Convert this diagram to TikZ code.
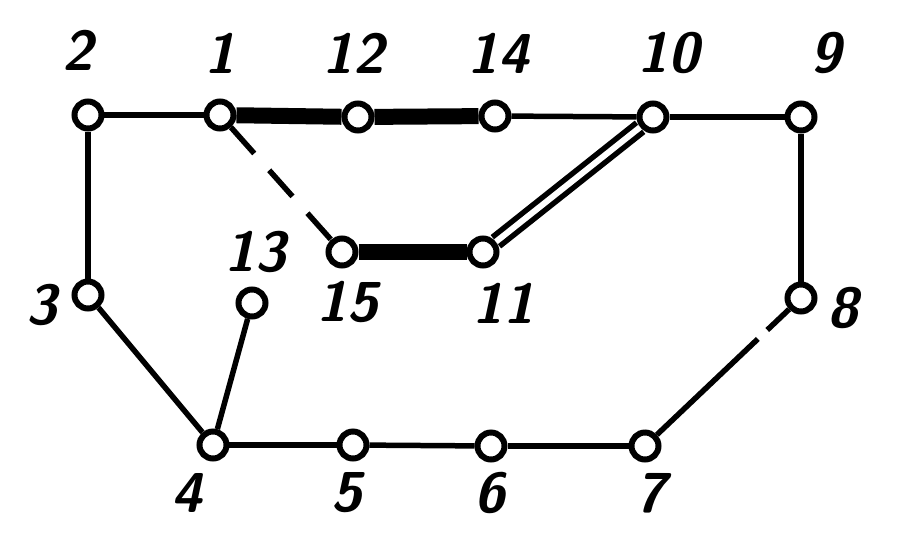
\documentclass[tikz,border=0pt]{standalone}
\begin{document}
\begin{tikzpicture}[x=0.02cm, y=-0.02cm,
        vert/.style = {circle, draw, fill = white, line width = 1.2mm, minimum size = 0.54cm, inner sep = 0pt},
        link/.style = {line width = 1.1mm},
        heavy/.style = {line width = 3.2mm},
        twin/.style = {line width = 1.1mm, double, double distance = 1.2mm},
        num/.style = {font = \fontsize{32}{32}\selectfont\sffamily\bfseries\slshape}]
    \useasboundingbox (0, 0) rectangle (916, 542);

    % Vertices
    \node[vert] (v1)  at (220, 115) {};
    \node[vert] (v2)  at ( 88, 115) {};
    \node[vert] (v3)  at ( 88, 295) {};
    \node[vert] (v4)  at (213, 445) {};
    \node[vert] (v5)  at (353, 445) {};
    \node[vert] (v6)  at (491, 446) {};
    \node[vert] (v7)  at (645, 446) {};
    \node[vert] (v8)  at (801, 298) {};
    \node[vert] (v9)  at (801, 117) {};
    \node[vert] (v10) at (653, 117) {};
    \node[vert] (v11) at (483, 252) {};
    \node[vert] (v12) at (358, 117) {};
    \node[vert] (v13) at (252, 303) {};
    \node[vert] (v14) at (495, 116) {};
    \node[vert] (v15) at (342, 252) {};

    % Outer ring
    \draw[link] (v2) -- (v1);
    \draw[link] (v14) -- (v10);
    \draw[link] (v10) -- (v9);
    \draw[link] (v9) -- (v8);
    \draw[link, dash pattern = on 0.6cm off 0.26cm on 10cm] (v8) -- (v7);
    \draw[link] (v7) -- (v6);
    \draw[link] (v6) -- (v5);
    \draw[link] (v5) -- (v4);
    \draw[link] (v4) -- (v3);
    \draw[link] (v3) -- (v2);
    \draw[link] (v4) -- (v13);

    % Inner branches
    \draw[heavy] (v1) -- (v12);
    \draw[heavy] (v12) -- (v14);
    \draw[heavy] (v15) -- (v11);
    \draw[twin] (v11) -- (v10);
    \draw[link, dash pattern = on 0.7cm off 0.45cm] (v1) -- (v15);

    % Vertex numbers
    \node[num] (n1)  at (220,  53) {1};
    \node[num] (n2)  at ( 78,  50) {2};
    \node[num] (n3)  at ( 42, 305) {3};
    \node[num] (n4)  at (187, 493) {4};
    \node[num] (n5)  at (347, 493) {5};
    \node[num] (n6)  at (490, 493) {6};
    \node[num] (n7)  at (651, 493) {7};
    \node[num] (n8)  at (843, 308) {8};
    \node[num] (n9)  at (826,  53) {9};
    \node[num] (n10) at (668,  53) {10};
    \node[num] (n11) at (503, 303) {11};
    \node[num] (n12) at (353,  53) {12};
    \node[num] (n13) at (255, 252) {13};
    \node[num] (n14) at (498,  53) {14};
    \node[num] (n15) at (347, 302) {15};
\end{tikzpicture}
\end{document}
